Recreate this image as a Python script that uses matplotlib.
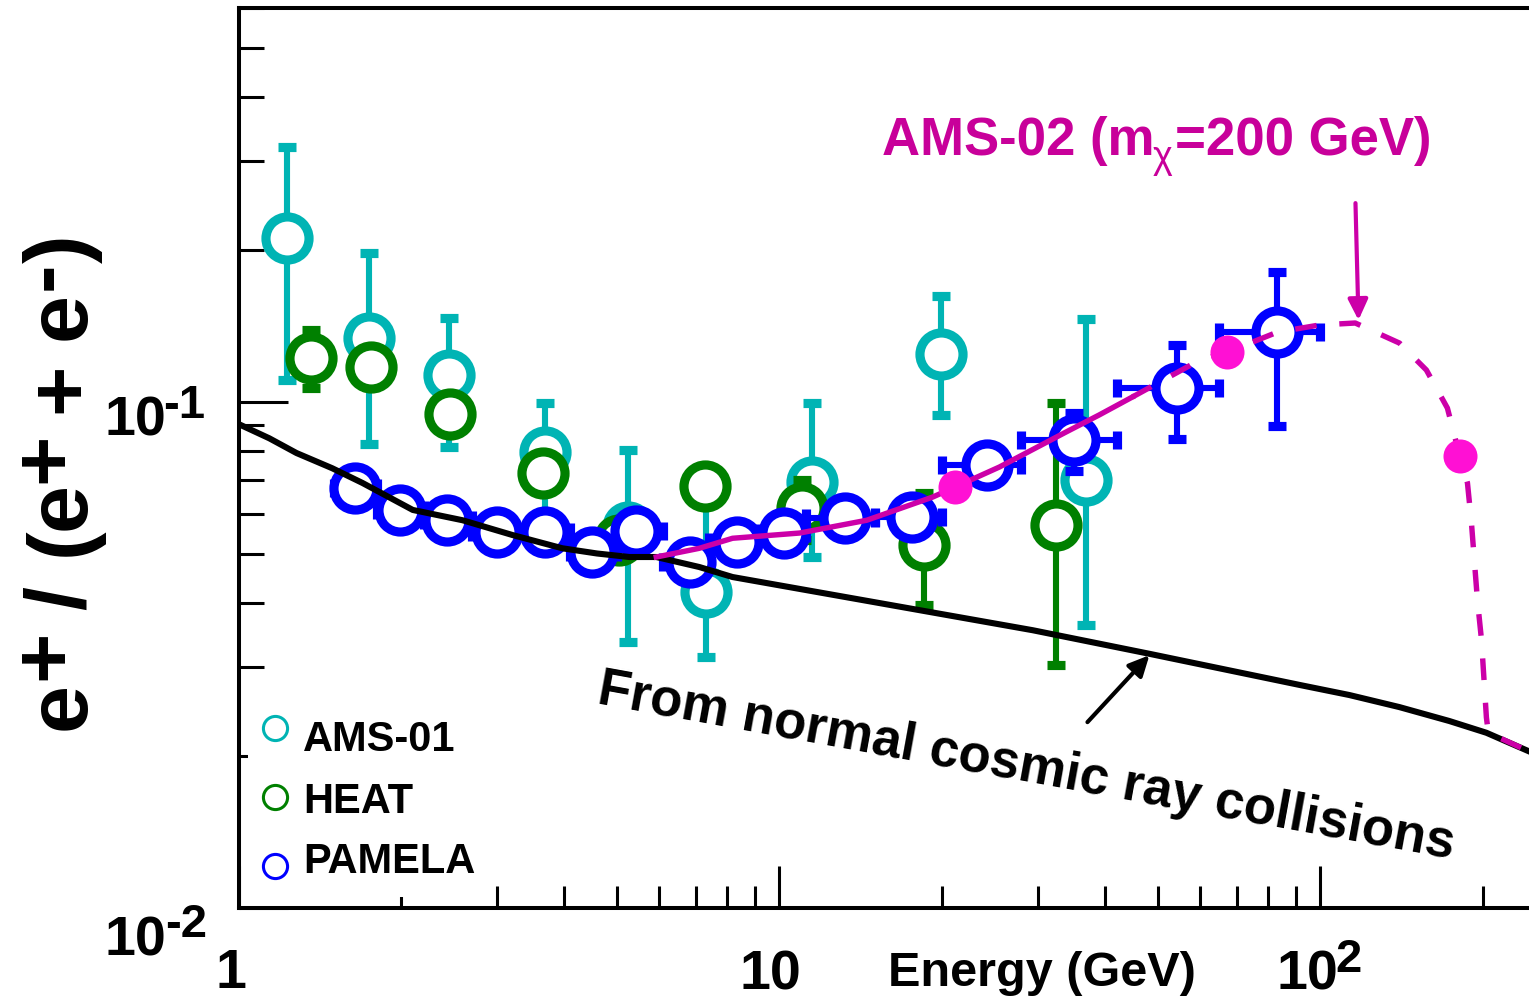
import numpy as np
import matplotlib
matplotlib.use("Agg")
import matplotlib.pyplot as plt
from matplotlib.ticker import LogLocator, NullFormatter, FixedLocator
from matplotlib.patches import Rectangle

FONT = ["Liberation Sans", "DejaVu Sans"]
plt.rcParams["font.family"] = FONT

# ---------------- measurements ----------------
# AMS-01 positron fraction
ams01_energy = [1.23, 1.74, 2.45, 3.68, 5.24, 7.33, 11.5, 19.9, 36.9]
ams01_frac = [0.211, 0.1338, 0.1131, 0.0797, 0.0566, 0.0421, 0.0695, 0.1244, 0.0701]
ams01_err_lo = [0.1005, 0.051, 0.0316, 0.019, 0.023, 0.0108, 0.020, 0.0301, 0.0339]
ams01_err_hi = [0.108, 0.063, 0.0335, 0.0198, 0.0238, 0.022, 0.030, 0.0376, 0.076]

# HEAT positron fraction
heat_energy = [1.36, 1.76, 2.46, 3.65, 5.06, 7.27, 11.0, 18.5, 32.5]
heat_frac = [0.1222, 0.1173, 0.0947, 0.0724, 0.0534, 0.0682, 0.0617, 0.0522, 0.0571]
heat_err_lo = [0.0156, 0.010, 0.008, 0.006, 0.004, 0.003, 0.0084, 0.0125, 0.0269]
heat_err_hi = [0.0166, 0.010, 0.008, 0.006, 0.004, 0.003, 0.0084, 0.0139, 0.0424]

# PAMELA positron fraction with energy bins
pamela_energy = [1.64, 1.99, 2.43, 3.00, 3.68, 4.51, 5.44, 6.82, 8.33, 10.2,
                 13.2, 17.6, 24.2, 35.1, 54.2, 83.3]
pamela_bin_lo = [1.5, 1.8, 2.2, 2.7, 3.3, 4.1, 5.0, 6.1, 7.4, 9.1,
                 11.2, 15.0, 20.0, 28.0, 42.0, 65.0]
pamela_bin_hi = [1.8, 2.2, 2.7, 3.3, 4.1, 5.0, 6.1, 7.4, 9.1, 11.2,
                 15.0, 20.0, 28.0, 42.0, 65.0, 100.0]
pamela_frac = [0.0676, 0.0612, 0.0584, 0.0553, 0.0553, 0.0505, 0.0556, 0.0483,
               0.0529, 0.0551, 0.0590, 0.0593, 0.0751, 0.0841, 0.1066, 0.1375]
pamela_err_lo = [0.002, 0.002, 0.002, 0.002, 0.002, 0.002, 0.002, 0.002,
                 0.002, 0.002, 0.003, 0.004, 0.005, 0.011, 0.022, 0.048]
pamela_err_hi = [0.002, 0.002, 0.002, 0.002, 0.002, 0.002, 0.002, 0.002,
                 0.002, 0.002, 0.003, 0.004, 0.005, 0.011, 0.023, 0.043]

# secondary production (normal cosmic ray collisions)
bg_energy = [1.0, 1.14, 1.28, 1.49, 1.695, 2.10, 2.595, 3.21, 3.97, 4.60, 5.28,
             5.92, 7.11, 8.19, 29.4, 48.3, 91.5, 113.1, 140.0, 173.1, 202.7, 243.0]
bg_frac = [0.0905, 0.0848, 0.0793, 0.0740, 0.0692, 0.0612, 0.0584, 0.0546, 0.0514,
           0.0502, 0.0494, 0.0494, 0.0472, 0.0451, 0.0354, 0.0318, 0.0276, 0.02636,
           0.02495, 0.02342, 0.0222, 0.0204]

# AMS-02 expectation for a 200 GeV neutralino
ams02_energy = [5.92, 7.11, 8.19, 10.9, 14.5, 19.2, 21.1, 25.5, 33.9, 39.0, 44.9,
                59.8, 67.3, 83.3, 99.6, 116.0, 140.0, 157.0, 171.7, 178.4, 187.0,
                190.2, 195.1, 198.5, 202.7, 204.4, 243.0]
ams02_frac = [0.0494, 0.0514, 0.0538, 0.0551, 0.0584, 0.0649, 0.0679, 0.0744,
              0.0873, 0.0943, 0.1023, 0.121, 0.1255, 0.1375, 0.142, 0.1433,
              0.1308, 0.1157, 0.0973, 0.0830, 0.0692, 0.0577, 0.0406, 0.0339,
              0.0238, 0.0222, 0.0204]
ams02_solid_until = 44.9
ams02_pts_energy = [21.1, 67.3, 181.5]
ams02_pts_frac = [0.0679, 0.1255, 0.0782]

legend_labels = ["AMS-01", "HEAT", "PAMELA"]

# ---------------- style ----------------
CYAN = "#00B4B4"
GREEN = "#008000"
BLUE = "#0000FF"
MAG_LINE = "#CC00A8"
MAG_DOT = "#FF10D4"
MAG_TEXT = "#C8009A"

W, H, DPI = 1529, 999, 100
fig = plt.figure(figsize=(W / DPI, H / DPI), dpi=DPI)


def fx(px):
    return px / W


def fy(py):
    return 1 - py / H


ax = fig.add_axes([fx(238.5), fy(908), 1 - fx(238.5), (908 - 8) / H])
ax.set_xscale("log")
ax.set_yscale("log")
ax.set_xlim(1, 243)
ax.set_ylim(0.01, 0.601)

for side in ("left", "bottom", "top"):
    ax.spines[side].set_linewidth(2.9)
ax.spines["right"].set_visible(False)

ax.xaxis.set_major_locator(FixedLocator([1, 10, 100]))
ax.xaxis.set_minor_locator(LogLocator(base=10, subs=np.arange(2, 10)))
ax.yaxis.set_major_locator(FixedLocator([0.01, 0.1]))
ax.yaxis.set_minor_locator(LogLocator(base=10, subs=np.arange(2, 10)))
ax.xaxis.set_minor_formatter(NullFormatter())
ax.yaxis.set_minor_formatter(NullFormatter())
ax.tick_params(axis="both", which="both", direction="in", width=2.2,
               top=False, right=False, labelbottom=False, labelleft=False)
ax.tick_params(axis="x", which="major", length=30)
ax.tick_params(axis="x", which="minor", length=16)
ax.tick_params(axis="y", which="major", length=35)
ax.tick_params(axis="y", which="minor", length=18)

EB = dict(fmt="o", ms=31.0, mew=6.6, mfc="white", elinewidth=4.4,
          capsize=6.5, capthick=4.0)

ax.errorbar(ams01_energy, ams01_frac, yerr=[ams01_err_lo, ams01_err_hi],
            mec=CYAN, ecolor=CYAN, zorder=3, **EB)
ax.errorbar(heat_energy, heat_frac, yerr=[heat_err_lo, heat_err_hi],
            mec=GREEN, ecolor=GREEN, zorder=4, **EB)
pam_e = np.array(pamela_energy)
pam_xerr = [pam_e - np.array(pamela_bin_lo), np.array(pamela_bin_hi) - pam_e]
ax.errorbar(pamela_energy, pamela_frac, xerr=pam_xerr,
            yerr=[pamela_err_lo, pamela_err_hi],
            mec=BLUE, ecolor=BLUE, zorder=5, **EB)

# secondary-production curve
ax.plot(bg_energy, bg_frac, color="black", lw=4.4, zorder=6,
        solid_joinstyle="round")

# AMS-02 expectation: solid where measured, dashed beyond
e02 = np.array(ams02_energy)
f02 = np.array(ams02_frac)
solid = e02 <= ams02_solid_until
dashed = e02 >= ams02_solid_until
ax.plot(e02[solid], f02[solid], color=MAG_LINE, lw=3.9, zorder=7,
        solid_joinstyle="round")
ax.plot(e02[dashed], f02[dashed], color=MAG_LINE, lw=3.9, zorder=7,
        linestyle=(0, (4.0, 4.2)))
ax.plot(ams02_pts_energy, ams02_pts_frac, "o", color=MAG_DOT, ms=24.5, mew=0,
        zorder=8)

# arrows
ax.annotate("", xy=(117.6, 0.1452), xytext=(116.1, 0.2473),
            arrowprops=dict(arrowstyle="-|>,head_length=0.62,head_width=0.3",
                            mutation_scale=20, lw=3.0, color=MAG_LINE,
                            shrinkA=0, shrinkB=0), zorder=9)
ax.annotate("", xy=(48.3, 0.0316), xytext=(37.1, 0.0233),
            arrowprops=dict(arrowstyle="-|>,head_length=0.62,head_width=0.3",
                            mutation_scale=20, lw=3.0, color="black",
                            shrinkA=0, shrinkB=0), zorder=9)

# legend panel
ax.add_patch(Rectangle((fx(248), fy(897)), (485 - 248) / W, (897 - 692) / H,
                       transform=fig.transFigure, facecolor="white",
                       edgecolor="none", zorder=2))
leg_colors = [CYAN, GREEN, BLUE]
leg_marker_y = [728, 797, 866]
leg_text_y = [751, 813, 873]
for lab, col, my, ty in zip(legend_labels, leg_colors, leg_marker_y, leg_text_y):
    fig.lines.append(plt.Line2D([fx(275)], [fy(my)], marker="o", ms=17.4, mew=2.2,
                                mfc="none", mec=col, transform=fig.transFigure))
    fig.text(fx(303), fy(ty), lab, fontsize=30, fontweight="bold", color="black",
             ha="left", va="baseline")


def put(px, py, s, size, weight="bold", color="black", rot=0, ha="left"):
    fig.text(fx(px), fy(py), s, fontsize=size, fontweight=weight, color=color,
             rotation=rot, rotation_mode="anchor", ha=ha, va="baseline")


# tick labels
put(231, 988, "1", 40, ha="center")
put(770, 989, "10", 40, ha="center")
put(1276, 990, "10", 40)
put(1335, 972, "2", 34)
put(105, 435, "10", 40)
put(163, 418, "-1", 34)
put(105, 955, "10", 40)
put(165, 937, "-2", 34)

# axis titles
put(1042, 986, "Energy (GeV)", 35, ha="center")
ylabel_pieces = [("e", 730, 0), ("+", 680, 1), ("/", 610, 0), ("(", 556, 0),
                 ("e", 530, 0), ("+", 483, 1), ("+", 413, 0), ("e", 340, 0),
                 ("-", 290, 1), (")", 263, 0)]
for s, start, sup in ylabel_pieces:
    put(85 - 16 * sup, start, s, 62, rot=90)

# annotations
put(882, 155, "AMS-02 (m", 38, color=MAG_TEXT)
put(1153, 168, "\u03c7", 27, weight="normal", color=MAG_TEXT)
put(1175, 155, "=200 GeV)", 38, color=MAG_TEXT)
put(596, 703, "From normal cosmic ray collisions", 38, rot=-10.3)

fig.savefig("out.png", dpi=DPI)
